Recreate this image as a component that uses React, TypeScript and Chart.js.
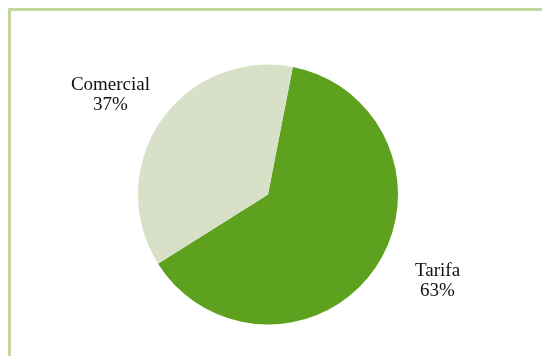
import React, { useEffect, useRef } from "react";
import { Chart, registerables } from "chart.js";

Chart.register(...registerables);

const categories = ["Tarifa", "Comercial"];
const values = [63, 37];
const percentLabels = ["63%", "37%"];
const colors = ["#5ea11f", "#d8e1c7"];

// label nudges (layout only), relative to the radial anchor point
const labelNudge = [
  { dx: 14, dy: -20 },
  { dx: -2, dy: 7 },
];

const labelPlugin = {
  id: "outsideLabels",
  afterDatasetsDraw(chart: any) {
    const ctx = chart.ctx;
    const meta = chart.getDatasetMeta(0);
    ctx.save();
    ctx.font = '19px "Liberation Serif", "DejaVu Serif", serif';
    ctx.fillStyle = "#111";
    ctx.textAlign = "center";
    ctx.textBaseline = "middle";
    meta.data.forEach((arc: any, i: number) => {
      const { x, y, startAngle, endAngle, outerRadius } = arc.getProps(
        ["x", "y", "startAngle", "endAngle", "outerRadius"],
        true
      );
      const mid = (startAngle + endAngle) / 2;
      const d = outerRadius * 1.45;
      const cx = x + Math.cos(mid) * d + labelNudge[i].dx;
      const cy = y + Math.sin(mid) * d + labelNudge[i].dy;
      ctx.fillText(categories[i], cx, cy - 10);
      ctx.fillText(percentLabels[i], cx, cy + 10);
    });
    ctx.restore();
  },
};

export default function App() {
  const ref = useRef<HTMLCanvasElement>(null);
  useEffect(() => {
    if (!ref.current) return;
    const chart = new Chart(ref.current, {
      type: "pie",
      data: {
        labels: categories,
        datasets: [
          {
            data: values,
            backgroundColor: colors,
            borderWidth: 0,
          },
        ],
      },
      options: {
        animation: false,
        responsive: false,
        maintainAspectRatio: false,
        rotation: 11,
        layout: { padding: { top: 53.5, bottom: 23.5, left: 20, right: 37 } },
        plugins: {
          legend: { display: false },
          tooltip: { enabled: false },
        },
      },
      plugins: [labelPlugin],
    });
    return () => chart.destroy();
  }, []);
  return (
    <div
      style={{
        position: "fixed",
        left: 8,
        top: 8,
        right: 0,
        bottom: 0,
        borderTop: "3px solid #c3d69b",
        borderLeft: "3px solid #c3d69b",
        overflow: "hidden",
      }}
    >
      <canvas ref={ref} width={531} height={337} style={{ display: "block" }} />
    </div>
  );
}
